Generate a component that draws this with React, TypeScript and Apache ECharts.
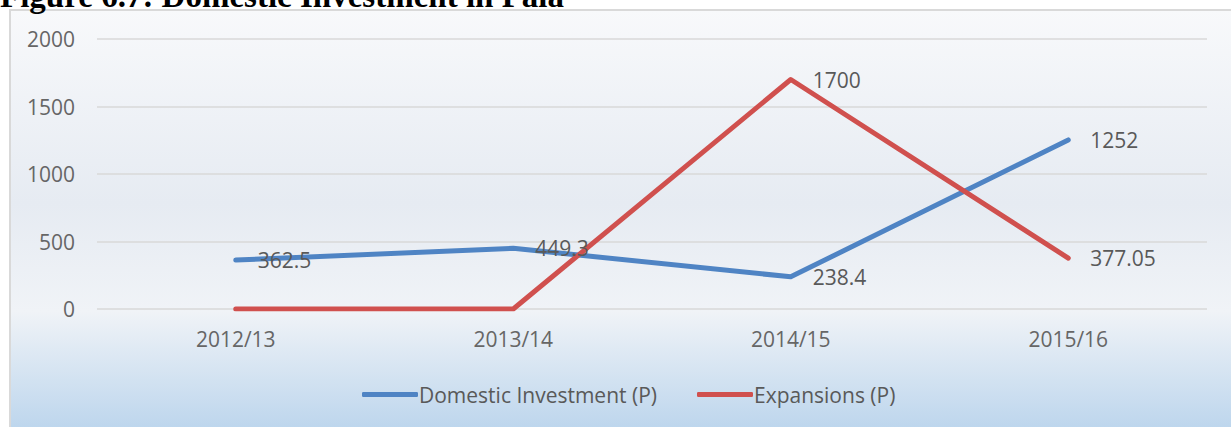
import React, { useEffect, useRef } from "react";
import * as echarts from "echarts";

const categories = ["2012/13", "2013/14", "2014/15", "2015/16"];
const domesticInvestment = [362.5, 449.3, 238.4, 1252];
const expansions = [0, 0, 1700, 377.05];
const seriesNames = ["Domestic Investment (P)", "Expansions (P)"];
const titleText = "Figure 6.7: Domestic Investment in Pala";

const FONT = "'Open Sans', sans-serif";

export default function App() {
  const ref = useRef<HTMLDivElement>(null);
  useEffect(() => {
    document.body.style.margin = "0";
    const chart = echarts.init(ref.current!, null, { renderer: "svg" });
    const labelStyle = {
      show: true,
      position: "right",
      distance: 22,
      color: "#595959",
      fontSize: 21,
      fontFamily: FONT,
    };
    chart.setOption({
      animation: false,
      graphic: [
        {
          type: "rect",
          z: -10,
          silent: true,
          shape: { x: 10, y: 10, width: 1230, height: 430 },
          style: {
            fill: new echarts.graphic.LinearGradient(0, 0, 0, 1, [
              { offset: 0, color: "#f8f9fb" },
              { offset: 0.45, color: "#e6ebf2" },
              { offset: 0.7, color: "#f0f3f7" },
              { offset: 1, color: "#b8d3ec" },
            ]),
            stroke: "#d9d9d9",
            lineWidth: 2,
          },
        },
        {
          type: "text",
          x: 0,
          y: 12,
          z: 10,
          style: {
            text: titleText,
            font: "bold 33px 'Liberation Serif', serif",
            fill: "#000",
            verticalAlign: "bottom",
          },
        },
      ],
      grid: { left: 97, right: 24, top: 39, bottom: 118, containLabel: false },
      legend: {
        data: seriesNames,
        left: 357,
        top: 379,
        itemWidth: 56,
        itemHeight: 5,
        itemGap: 40,
        icon: "roundRect",
        textStyle: { color: "#595959", fontSize: 21, fontFamily: FONT, padding: [0, 0, 0, -4] },
      },
      xAxis: {
        type: "category",
        data: categories,
        boundaryGap: true,
        axisLine: { show: false },
        axisTick: { show: false },
        axisLabel: { color: "#666666", fontSize: 21, fontFamily: FONT, margin: 19 },
      },
      yAxis: {
        type: "value",
        min: 0,
        max: 2000,
        interval: 500,
        axisLine: { show: false },
        axisTick: { show: false },
        axisLabel: {
          color: "#666666",
          fontSize: 21,
          fontFamily: FONT,
          margin: 22,
          formatter: (v: number) => String(v),
        },
        splitLine: { lineStyle: { color: "#d9d9d9", width: 1.5 } },
      },
      series: [
        {
          name: seriesNames[0],
          type: "line",
          data: domesticInvestment,
          showSymbol: true,
          symbol: "circle",
          symbolSize: 0.1,
          color: "#4f84c4",
          lineStyle: { width: 5, color: "#4f84c4", cap: "round", join: "round" },
          label: labelStyle,
        },
        {
          name: seriesNames[1],
          type: "line",
          data: expansions.map((v) => (v === 0 ? { value: v, label: { show: false } } : v)),
          showSymbol: true,
          symbol: "circle",
          symbolSize: 0.1,
          color: "#d0504e",
          lineStyle: { width: 5, color: "#d0504e", cap: "round", join: "round" },
          label: labelStyle,
        },
      ],
    });
    return () => chart.dispose();
  }, []);
  return <div ref={ref} style={{ position: "absolute", left: 0, top: 0, width: 1231, height: 427 }} />;
}
